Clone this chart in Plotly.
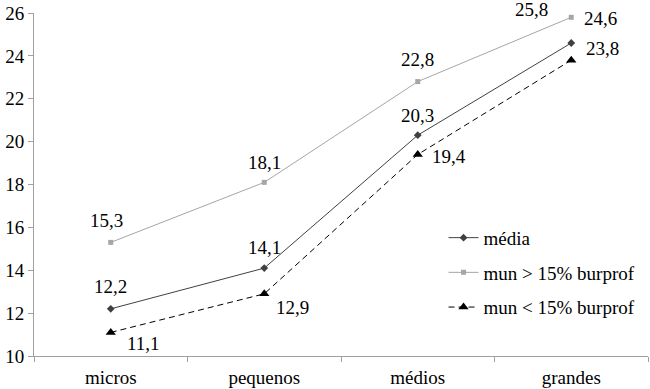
import plotly.graph_objects as go

categories = ["micros", "pequenos", "médios", "grandes"]
media = [12.2, 14.1, 20.3, 24.6]
mun_maior = [15.3, 18.1, 22.8, 25.8]
mun_menor = [11.1, 12.9, 19.4, 23.8]
y_ticks = [10, 12, 14, 16, 18, 20, 22, 24, 26]

FONT = "Times New Roman, Liberation Serif, DejaVu Serif, serif"
FS = 19

def fmt(v):
    return f"{v:.1f}".replace(".", ",")

fig = go.Figure()
fig.add_trace(go.Scatter(
    x=categories, y=media, name="média", mode="lines+markers",
    line=dict(color="#404040", width=1),
    marker=dict(symbol="diamond", size=6, color="#404040"),
    legendgroup="a"))
fig.add_trace(go.Scatter(
    x=categories, y=mun_maior, name="mun > 15% burprof", mode="lines+markers",
    line=dict(color="#a6a6a6", width=1),
    marker=dict(symbol="square", size=5, color="#a6a6a6"),
    legendgroup="b"))
fig.add_trace(go.Scatter(
    x=categories, y=mun_menor, name="mun < 15% burprof", mode="lines+markers",
    line=dict(color="#000000", width=1, dash="6px,4px"),
    marker=dict(symbol="triangle-up", size=9, color="#000000"),
    legendgroup="c"))

offsets = {
    "media": [(0, -22), (0, -21), (0, -20), (29, -25)],
    "maior": [(-4, -22), (0, -20), (0, -22), (-40, -8)],
    "menor": [(33, 11), (28, 14), (31, 2), (31, -12)],
}
for key, vals in (("media", media), ("maior", mun_maior), ("menor", mun_menor)):
    for i, v in enumerate(vals):
        dx, dy = offsets[key][i]
        fig.add_annotation(x=categories[i], y=v, text=fmt(v), showarrow=False,
                           xshift=dx, yshift=-dy,
                           font=dict(family=FONT, size=FS, color="#000000"))

fig.update_layout(
    width=650, height=389,
    margin=dict(l=34, r=2, t=13, b=33),
    paper_bgcolor="white", plot_bgcolor="white",
    font=dict(family=FONT, size=FS, color="#000000"),
    showlegend=True,
    legend=dict(x=0.667, y=0.40, xanchor="left", yanchor="top",
                bgcolor="rgba(0,0,0,0)", tracegroupgap=7,
                font=dict(family=FONT, size=FS, color="#000000")),
    xaxis=dict(type="category", tickson="boundaries", showgrid=False,
               showline=True, linecolor="#a0a0a0", linewidth=1,
               ticks="outside", ticklen=5, tickcolor="#a0a0a0",
               ticklabelstandoff=4,
               range=[-0.5, 3.5], zeroline=False, automargin=False),
    yaxis=dict(range=[10, 26], tickvals=y_ticks, showgrid=False,
               showline=True, linecolor="#a0a0a0", linewidth=1,
               ticks="outside", ticklen=5, tickcolor="#a0a0a0",
               zeroline=False, automargin=False),
)

fig.write_html("out.html", config={"displayModeBar": False},
               post_script="document.body.style.margin='0';document.body.style.padding='0';")
